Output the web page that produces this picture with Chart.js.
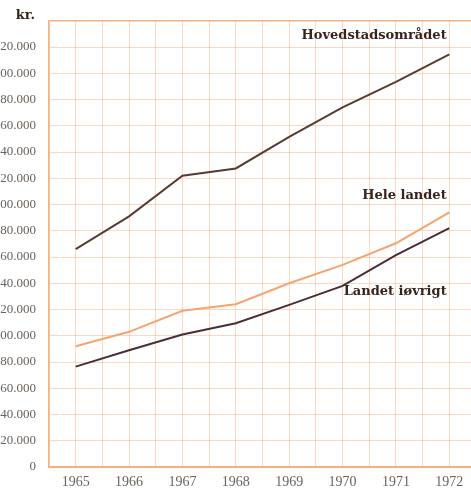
<!DOCTYPE html>
<html>
<head>
<meta charset="utf-8">
<script src="https://cdn.jsdelivr.net/npm/chart.js@4"></script>
<style>
  html, body { margin: 0; padding: 0; background: #fff; overflow: hidden; }
  #wrap { position: absolute; left: -12px; top: 0; width: 495px; height: 489px; }
</style>
</head>
<body>
<div id="wrap"><canvas id="chart" width="495" height="489"></canvas></div>
<script>
// indkomst pr. husstand, kr.
const years = [1965, 1966, 1967, 1968, 1969, 1970, 1971, 1972];
const hovedstad = [166000, 191000, 222000, 227500, 251500, 274000, 293500, 314500];
const heleLandet = [92000, 103000, 119000, 124000, 140000, 154000, 170500, 194000];
const landetIovrigt = [76500, 89000, 101000, 109500, 123500, 138000, 161500, 182000];

const seriesNames = ['Hovedstadsområdet', 'Hele landet', 'Landet iøvrigt'];
// label anchor (year, kr.) for the text next to each line
const labelYears = [1971.95, 1971.95, 1971.95];
const labelValues = [329000, 206500, 134000];

const gridColor = 'rgba(244,168,118,0.45)';
const frameColor = '#f2b184';

const toPoints = vals => vals.map((v, i) => ({x: years[i], y: v}));

const seriesLabels = {
    id: 'seriesLabels',
    afterDatasetsDraw(chart) {
        const {ctx, scales: {x, y}, chartArea} = chart;
        ctx.save();
        ctx.fillStyle = '#38241f';
        ctx.font = 'bold 13px "DejaVu Serif"';
        ctx.textAlign = 'right';
        ctx.textBaseline = 'middle';
        seriesNames.forEach((name, i) => {
            ctx.fillText(name, x.getPixelForValue(labelYears[i]), y.getPixelForValue(labelValues[i]));
        });
        ctx.fillText('kr.', chartArea.left - 14, chartArea.top - 5);
        ctx.restore();
    }
};

new Chart(document.getElementById('chart'), {
    type: 'line',
    data: {
        datasets: [
            {label: seriesNames[0], data: toPoints(hovedstad), borderColor: '#5a3b32', borderWidth: 2},
            {label: seriesNames[1], data: toPoints(heleLandet), borderColor: '#f5a470', borderWidth: 2},
            {label: seriesNames[2], data: toPoints(landetIovrigt), borderColor: '#4c2c36', borderWidth: 2}
        ]
    },
    options: {
        responsive: false,
        animation: false,
        layout: {padding: {top: 20, right: 6, left: 0, bottom: 0}},
        elements: {point: {radius: 0}, line: {tension: 0}},
        plugins: {legend: {display: false}, tooltip: {enabled: false}},
        scales: {
            x: {
                type: 'linear',
                min: 1964.5,
                max: 1972.5,
                afterBuildTicks: scale => {
                    const t = [];
                    for (let v = 1964.5; v <= 1972.5; v += 0.5) t.push({value: v});
                    scale.ticks = t;
                },
                afterFit: scale => { scale.height = 22; },
                grid: {color: gridColor, drawTicks: false, lineWidth: 1},
                border: {color: frameColor, width: 2},
                ticks: {
                    autoSkip: false,
                    maxRotation: 0,
                    padding: 7,
                    color: '#6a625c',
                    font: {family: 'Liberation Serif', size: 14},
                    callback: v => Number.isInteger(v) ? String(v) : ''
                }
            },
            y: {
                min: 0,
                max: 340000,
                afterFit: scale => { scale.width = 61; },
                grid: {
                    color: ctx => ctx.tick && ctx.tick.value === 340000 ? frameColor : gridColor,
                    drawTicks: false,
                    lineWidth: ctx => ctx.tick && ctx.tick.value === 340000 ? 1.5 : 1
                },
                border: {color: frameColor, width: 1.5},
                ticks: {
                    stepSize: 20000,
                    padding: 13,
                    color: '#6a625c',
                    font: {family: 'Liberation Serif', size: 13},
                    callback: v => v === 340000 ? '' : (v === 0 ? '0' : (v / 1000).toFixed(0) + '.000')
                }
            }
        }
    },
    plugins: [seriesLabels]
});
</script>
</body>
</html>
